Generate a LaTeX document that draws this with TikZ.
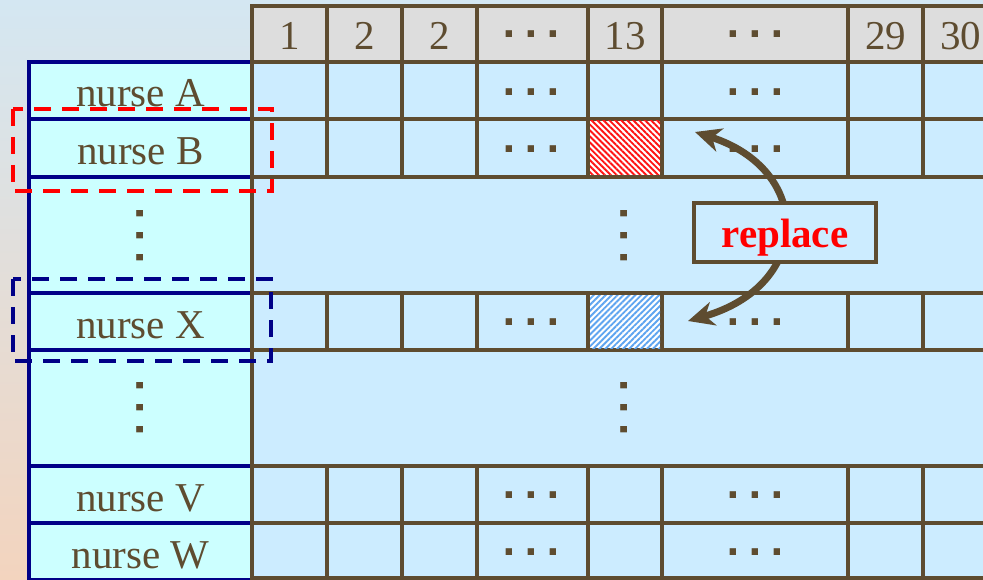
\documentclass[tikz,border=0pt]{standalone}
\usepackage{fontspec}
\setmainfont{Liberation Serif}
\newfontfamily\dotfont{DejaVu Sans}
\usetikzlibrary{arrows.meta,patterns.meta}
\definecolor{brn}{RGB}{94,76,48}
\definecolor{navyb}{RGB}{0,0,135}
\definecolor{lcyan}{RGB}{204,255,255}
\definecolor{gfill}{RGB}{204,236,255}
\definecolor{hgray}{RGB}{221,221,221}
\definecolor{bgtop}{RGB}{212,231,242}
\definecolor{bgbot}{RGB}{243,212,190}
\definecolor{hred}{RGB}{255,20,20}
\definecolor{hblue}{RGB}{95,165,240}
\newcommand\mydots{{\dotfont\bfseries\fontsize{36}{36}\selectfont\makebox[22pt]{.}\makebox[22pt]{.}\makebox[22pt]{.}}}
\tikzset{
  txt/.style={font=\fontsize{41}{41}\selectfont, text=brn},
  lcell/.style={draw=navyb, fill=lcyan, line width=4pt, inner sep=0pt, outer sep=0pt, minimum width=223pt, txt, anchor=base},
  gcell/.style={draw=brn, fill=gfill, line width=4pt, inner sep=0pt, outer sep=0pt},
  hcell/.style={gcell, fill=hgray, txt, anchor=base, text height=44pt, text depth=12pt},
  dotsty/.style={inner sep=0pt, outer sep=0pt, text=brn},
}
\begin{document}
\begin{tikzpicture}[x=1pt,y=-1pt]
\useasboundingbox (0,0) rectangle (983,580);
\clip (0,0) rectangle (983,580);
\shade[top color=bgtop, bottom color=bgbot] (0,0) rectangle (983,580);

% left column
\node[lcell, text height=45pt, text depth=12pt] (lA) at (140.5,107) {nurse A};
\node[lcell, text height=46pt, text depth=12pt] (lB) at (140.5,165) {nurse B};
\node[lcell, anchor=center, minimum height=116pt] (lD1) at (140.5,235) {};
\node[lcell, text height=45pt, text depth=12pt] (lX) at (140.5,338) {nurse X};
\node[lcell, anchor=center, minimum height=116pt] (lD2) at (140.5,408) {};
\node[lcell, text height=45pt, text depth=12pt] (lV) at (140.5,511) {nurse V};
\node[lcell, text height=45pt, text depth=12pt] (lW) at (140.5,568) {nurse W};

% header
\foreach \c/\xa/\xb/\t in {1/252/327/1, 2/327/402/2, 3/402/477/2, 4/477/588/{}, 5/588/662/13, 6/662/848/{}, 7/848/923/29, 8/923/998/30}
  \node[hcell, minimum width={(\xb-\xa)*1pt}] (h\c) at ({(\xa+\xb)/2},50) {\t};

% grid rows
\foreach \r/\ya/\yb in {A/62/119, B/119/177, X/293/350, V/466/523, W/523/578}
  \foreach \c/\xa/\xb in {1/252/327, 2/327/402, 3/402/477, 4/477/588, 5/588/662, 6/662/848, 7/848/923, 8/923/998}
    \node[gcell, minimum width={(\xb-\xa)*1pt}, minimum height={(\yb-\ya)*1pt}] (g\r\c) at ({(\xa+\xb)/2},{(\ya+\yb)/2}) {};
\node[gcell, minimum width=746pt, minimum height=116pt] (gD1) at (625,235) {};
\node[gcell, minimum width=746pt, minimum height=116pt] (gD2) at (625,408) {};

% hatched cells
\fill[white] (590,121) rectangle (660,175);
\pattern[pattern={Lines[angle=-45,distance=4.2pt,line width=1.9pt]}, pattern color=hred] (590,121) rectangle (660,175);
\fill[white] (590,295) rectangle (660,348);
\pattern[pattern={Lines[angle=45,distance=4.2pt,line width=1.9pt]}, pattern color=hblue] (590,295) rectangle (660,348);

% horizontal dots
\foreach \n/\y in {h/34, A/92, B/149, X/322, V/495, W/552}{
  \node[dotsty] (da\n) at (531,\y) {\mydots};
  \node[dotsty] (db\n) at (755.5,\y) {\mydots};
}
% vertical dots
\node[dotsty, rotate=90] (vl1) at (140,236) {\mydots};
\node[dotsty, rotate=90] (vm1) at (624,236) {\mydots};
\node[dotsty, rotate=90] (vl2) at (140,408) {\mydots};
\node[dotsty, rotate=90] (vm2) at (624,408) {\mydots};

% dashed selections
\draw[red, line width=3.5pt, dash pattern=on 17pt off 11pt] (13,109) rectangle (272,191);
\draw[navyb, line width=3.5pt, dash pattern=on 17pt off 11pt] (13,279) rectangle (271,361);

% replace arrow
\coordinate (tipB) at (695,132);
\coordinate (tipX) at (688,321);
\draw[brn, line width=7pt, {Stealth[length=26pt,width=24pt,inset=8pt]}-{Stealth[length=26pt,width=24pt,inset=8pt]}]
  (tipB) .. controls (813,170) and (813,285) .. (tipX);
\node[draw=brn, fill=gfill, line width=4pt, inner sep=0pt, minimum width=182pt, text height=45pt, text depth=14pt, anchor=base, text=red, font=\bfseries\fontsize{41}{41}\selectfont] (rep) at (785,248) {replace};
\end{tikzpicture}
\end{document}
